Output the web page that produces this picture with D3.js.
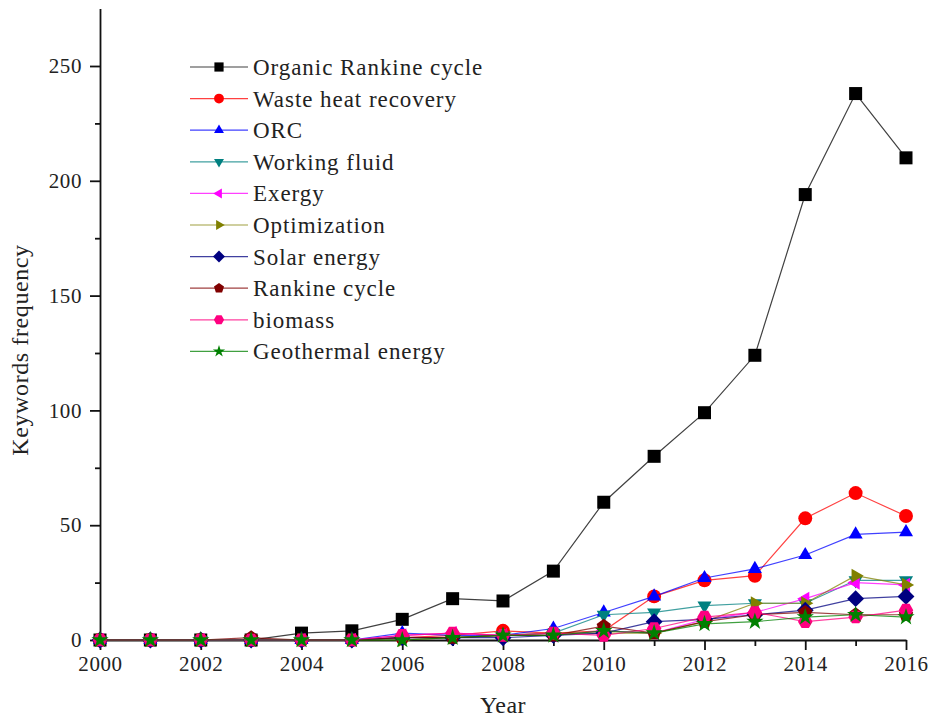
<!DOCTYPE html>
<html>
<head>
<meta charset="utf-8">
<script src="https://cdn.jsdelivr.net/npm/d3@7"></script>
<style>
  body { margin: 0; background: #fff; }
  text { font-family: "Liberation Serif", "DejaVu Serif", serif; fill: #222; }
</style>
</head>
<body>
<svg id="chart" width="932" height="720"></svg>
<script>
// données (fréquence des mots-clés par année)
const years = d3.range(2000, 2017);
const seriesNames = ["Organic Rankine cycle", "Waste heat recovery", "ORC", "Working fluid", "Exergy",
  "Optimization", "Solar energy", "Rankine cycle", "biomass", "Geothermal energy"];
const organicRankine = [0, 0, 0, 0, 3, 4, 9, 18, 17, 30, 60, 80, 99, 124, 194, 238, 210];
const wasteHeat      = [0, 0, 0, 0, 0, 0, 1, 2, 4, 3, 4, 19, 26, 28, 53, 64, 54];
const orc            = [0, 0, 0, 0, 0, 0, 3, 2, 2, 5, 12, 19, 27, 31, 37, 46, 47];
const workingFluid   = [0, 0, 0, 0, 0, 0, 1, 1, 2, 3, 11, 12, 15, 16, 16, 26, 26];
const exergy         = [0, 0, 0, 0, 0, 0, 2, 3, 2, 2, 4, 3, 9, 12, 18, 25, 24];
const optimization   = [0, 0, 0, 0, 0, 0, 0, 1, 2, 3, 3, 3, 8, 16, 16, 28, 24];
const solarEnergy    = [0, 0, 0, 0, 0, 0, 1, 1, 1, 2, 3, 8, 9, 11, 13, 18, 19];
const rankineCycle   = [0, 0, 0, 1, 0, 0, 1, 1, 2, 2, 6, 3, 8, 11, 12, 11, 11];
const biomass        = [0, 0, 0, 0, 0, 0, 2, 3, 2, 3, 2, 5, 10, 12, 8, 10, 13];
const geothermal     = [0, 0, 0, 0, 0, 0, 0, 1, 2, 2, 4, 3, 7, 8, 10, 11, 10];
const yMajorTicks = [0, 50, 100, 150, 200, 250];
const xMajorTicks = [2000, 2002, 2004, 2006, 2008, 2010, 2012, 2014, 2016];

const allValues = [organicRankine, wasteHeat, orc, workingFluid, exergy,
  optimization, solarEnergy, rankineCycle, biomass, geothermal];
const colors = ["#000000", "#ff0000", "#0000ff", "#008080", "#ff00ff",
  "#808000", "#000080", "#800000", "#ff0080", "#008000"];
const shapes = ["square", "circle", "up", "down", "left", "right", "diamond", "pentagon", "hexagon", "star"];

const series = seriesNames.map((name, i) => ({
  name: name,
  color: colors[i],
  shape: shapes[i],
  values: years.map((yr, j) => ({ year: yr, v: allValues[i][j] }))
}));

const svg = d3.select("#chart");

const x = d3.scaleLinear().domain([2000, 2016]).range([100, 906]);
const y = d3.scaleLinear().domain([0, 275]).range([640, 8.6]);

// polygone régulier (r = rayon), angle de départ en degrés
function polygon(n, r, start) {
  const pts = d3.range(n).map(k => {
    const a = (start + k * 360 / n) * Math.PI / 180;
    return [r * Math.cos(a), r * Math.sin(a)];
  });
  return "M" + pts.map(p => p.join(",")).join("L") + "Z";
}

function markerPath(shape, s) { // s = demi-taille
  switch (shape) {
    case "square": return polygon(4, s * 1.414, 45);
    case "circle": return d3.symbol(d3.symbolCircle, Math.PI * s * s * 1.15)();
    case "up": return polygon(3, s * 1.25, -90);
    case "down": return polygon(3, s * 1.25, 90);
    case "left": return polygon(3, s * 1.25, 180);
    case "right": return polygon(3, s * 1.25, 0);
    case "diamond": return polygon(4, s * 1.3, 0);
    case "pentagon": return polygon(5, s * 1.15, -90);
    case "hexagon": return polygon(6, s * 1.12, 0);
    case "star": return d3.symbol(d3.symbolStar, s * s * 2.2)();
  }
}

// axes
const axisG = svg.append("g");

axisG.append("g")
  .attr("transform", "translate(100,0)")
  .call(d3.axisLeft(y).tickValues(yMajorTicks).tickSize(10).tickSizeOuter(0).tickPadding(8));
axisG.append("g")
  .attr("transform", "translate(100,0)")
  .call(d3.axisLeft(y).tickValues(d3.range(25, 275, 50)).tickSize(5).tickSizeOuter(0).tickFormat(""))
  .select(".domain").remove();

axisG.append("g")
  .attr("transform", "translate(0,640)")
  .call(d3.axisBottom(x).tickValues(xMajorTicks).tickSize(10).tickSizeOuter(0).tickPadding(6).tickFormat(d3.format("d")));
axisG.append("g")
  .attr("transform", "translate(0,640)")
  .call(d3.axisBottom(x).tickValues(d3.range(2001, 2016, 2)).tickSize(6).tickSizeOuter(0).tickFormat(""))
  .select(".domain").remove();

axisG.selectAll(".domain, .tick line").attr("stroke", "#111").attr("stroke-width", 1.8);
axisG.selectAll(".tick text").style("font-size", "21px").style("letter-spacing", "0.6px").attr("fill", "#222");

svg.append("text")
  .attr("x", 503).attr("y", 713)
  .attr("text-anchor", "middle")
  .style("font-size", "24px")
  .style("letter-spacing", "0.5px")
  .text("Year");

svg.append("text")
  .attr("transform", "translate(28,350) rotate(-90)")
  .attr("text-anchor", "middle")
  .style("font-size", "24px")
  .style("letter-spacing", "0.6px")
  .text("Keywords frequency");

// courbes + symboles
const line = d3.line().x(d => x(d.year)).y(d => y(d.v));

const g = svg.append("g");
series.forEach(s => {
  g.append("path")
    .datum(s.values)
    .attr("d", line)
    .attr("fill", "none")
    .attr("stroke", s.color)
    .attr("stroke-opacity", 0.75)
    .attr("stroke-width", 1.2);
  g.selectAll(null)
    .data(s.values)
    .enter()
    .append("path")
    .attr("transform", d => "translate(" + x(d.year) + "," + y(d.v) + ")")
    .attr("d", markerPath(s.shape, 6.5))
    .attr("fill", s.color);
});

// légende
const legend = svg.append("g");
series.forEach((s, i) => {
  const ly = 67 + i * 31.6;
  legend.append("line")
    .attr("x1", 190).attr("x2", 248).attr("y1", ly).attr("y2", ly)
    .attr("stroke", s.color).attr("stroke-opacity", 0.75).attr("stroke-width", 1.2);
  legend.append("path")
    .attr("transform", "translate(219," + ly + ")")
    .attr("d", markerPath(s.shape, 4.6))
    .attr("fill", s.color);
  legend.append("text")
    .attr("x", 253).attr("y", ly)
    .attr("dy", "0.35em")
    .style("font-size", "23px")
    .style("letter-spacing", "0.95px")
    .text(s.name);
});
</script>
</body>
</html>
